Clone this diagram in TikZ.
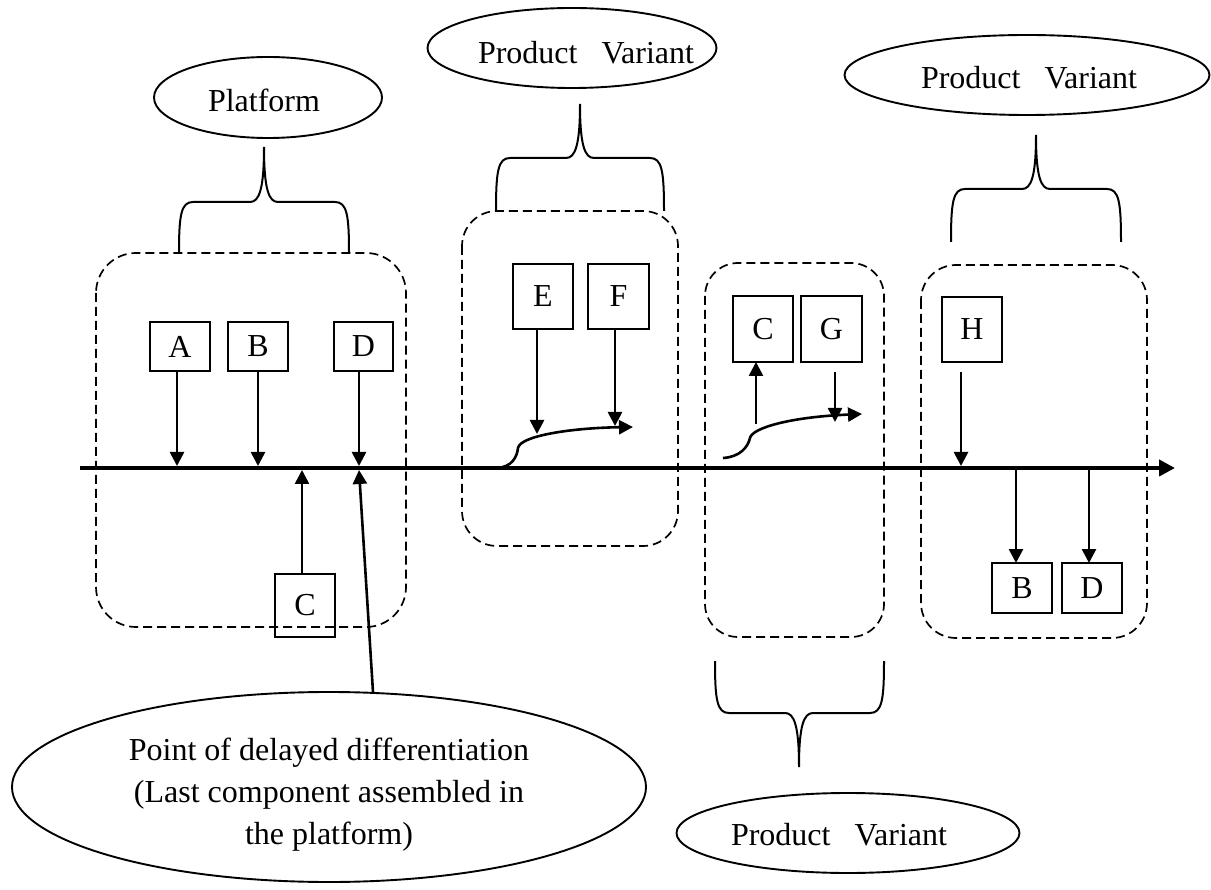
\documentclass[tikz,border=0pt]{standalone}
\usepackage{fontspec}
\setmainfont{Liberation Serif}
\usetikzlibrary{arrows.meta,shapes.geometric}
\newcommand\mybrace[7]{% x1 x2 yend yh ytip xtip sign
  \draw[bracel] (#1,#3) .. controls (#1,{#4+13*#7}) and ({#1+2},#4) .. ({#1+14},#4)
    -- ({#6-14},#4) .. controls ({#6-5},#4) and (#6,{#4-12*#7}) .. (#6,#5)
    .. controls (#6,{#4-12*#7}) and ({#6+5},#4) .. ({#6+14},#4)
    -- ({#2-14},#4) .. controls ({#2-2},#4) and (#2,{#4+13*#7}) .. (#2,#3);}
\begin{document}
\begin{tikzpicture}[x=1pt,y=-1pt,
  box/.style={draw,line width=1.9pt,minimum width=60pt,minimum height=50pt,inner sep=0pt,outer sep=0pt,font=\fontsize{32}{36}\selectfont},
  ell/.style={draw,ellipse,line width=1.9pt,inner sep=0pt,outer sep=0pt},
  lbl/.style={inner sep=0pt,font=\fontsize{32}{42}\selectfont},
  grp/.style={draw,dashed,dash pattern=on 9pt off 5pt,line width=1.7pt},
  bracel/.style={line width=2pt},
  arr/.style={line width=2.6pt,-{Triangle[length=14pt,width=14pt]}},
  axisl/.style={line width=4.8pt,-{Triangle[length=16pt,width=16pt]}}]
\useasboundingbox (0,0) rectangle (1211,890);

% dashed groups
\draw[grp,rounded corners=40pt] (96,253) rectangle (406,627);
\draw[grp,rounded corners=35pt] (462,211) rectangle (678,546);
\draw[grp,rounded corners=33pt] (705,263) rectangle (884,637);
\draw[grp,rounded corners=35pt] (921,265) rectangle (1147,638);

% braces
\mybrace{179}{349}{253}{202}{147}{264}{1}
\mybrace{496}{664}{211}{158}{104}{580}{1}
\mybrace{951}{1121}{242}{189}{135}{1036}{1}
\mybrace{715}{884}{661}{713}{767}{799}{-1}

% ellipses and their texts
\node[ell,minimum width=228pt,minimum height=81pt] (ePlat) at (268,97.5) {};
\node[lbl] (tPlat) at (264,100) {Platform};
\node[ell,minimum width=289pt,minimum height=80pt] (ePV1) at (572,48) {};
\node[lbl] (tPV1) at (586,53) {Product\hspace{24pt}Variant};
\node[ell,minimum width=365pt,minimum height=80pt] (ePV4) at (1027,75) {};
\node[lbl] (tPV4) at (1029,78) {Product\hspace{24pt}Variant};
\node[ell,minimum width=343pt,minimum height=80pt] (ePV3) at (848,833) {};
\node[lbl] (tPV3) at (839,835) {Product\hspace{24pt}Variant};
\node[ell,minimum width=634pt,minimum height=190pt] (ePDD) at (329,787) {};
\node[lbl,align=center] (tPDD) at (329,795) {Point of delayed differentiation\\(Last component assembled in\\the platform)};

% boxes
\node[box,minimum height=49pt] (A) at (180,346.5) {A};
\node[box,minimum height=49pt] (B) at (258,346.5) {B};
\node[box,minimum height=49pt,minimum width=59pt] (D) at (363.5,346.5) {D};
\node[box,minimum height=63pt] (C1) at (305,605.5) {C};
\node[box,minimum height=65pt] (E) at (543,296.5) {E};
\node[box,minimum height=65pt,minimum width=61pt] (F) at (618.5,296.5) {F};
\node[box,minimum height=66pt] (C2) at (763,329) {C};
\node[box,minimum height=66pt,minimum width=61pt] (G) at (831.5,329) {G};
\node[box,minimum height=65pt] (H) at (972,329.5) {H};
\node[box] (B2) at (1022,588) {B};
\node[box] (D2) at (1092,588) {D};

% timeline
\coordinate (ax0) at (80,468);
\coordinate (ax1) at (1175,468);
\draw[axisl] (ax0) -- (ax1);

% axis points
\coordinate (pA) at (177,466);
\coordinate (pB) at (258,466);
\coordinate (pD) at (359,466);
\coordinate (pC) at (302,470);
\coordinate (pDD) at (359,470);
\coordinate (dtail) at (373,692);
\coordinate (pH) at (961,466);
\coordinate (sB2) at (1016,468);
\coordinate (sD2) at (1089,468);

\draw[arr] (A.south -| pA) -- (pA);
\draw[arr] (B.south -| pB) -- (pB);
\draw[arr] (D.south -| pD) -- (pD);
\draw[arr] (C1.north -| pC) -- (pC);
\draw[arr] (dtail) -- (pDD);
\draw[arr] (pH |- 0,372) -- (pH);
\draw[arr] (sB2) -- (B2.north -| sB2);
\draw[arr] (sD2) -- (D2.north -| sD2);

% variant curve 1
\coordinate (c2s) at (497,468);
\coordinate (c2e) at (633,427);
\coordinate (eE) at (537,434);
\coordinate (eF) at (615,426);
\draw[arr] (c2s) .. controls (512,467) and (517,457) .. (518,448)
  .. controls (520,436) and (570,428) .. (c2e);
\draw[arr] (E.south -| eE) -- (eE);
\draw[arr] (F.south -| eF) -- (eF);

% variant curve 2
\coordinate (c3s) at (723,458);
\coordinate (c3e) at (862,414);
\coordinate (sC2) at (756,424);
\coordinate (sG) at (835,372);
\coordinate (eG) at (835,422);
\draw[arr] (c3s) .. controls (740,457) and (748,447) .. (750,438)
  .. controls (752,428) and (790,417) .. (c3e);
\draw[arr] (sC2) -- (C2.south -| sC2);
\draw[arr] (sG) -- (eG);
\end{tikzpicture}
\end{document}
